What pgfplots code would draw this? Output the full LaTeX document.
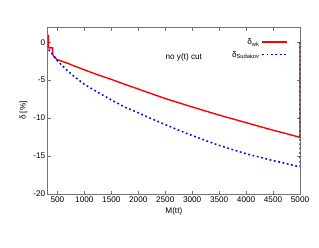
\documentclass[border=0pt]{standalone}
\usepackage{pgfplots}
\pgfplotsset{compat=1.18}
\usepackage{fontspec}
\setmainfont{Liberation Sans}
\begin{document}
\begin{tikzpicture}[font=\fontsize{8.2pt}{9.5pt}\selectfont]
\begin{axis}[
  scale only axis,
  width=252.3pt, height=167pt,
  at={(0,0)}, anchor=south west,
  xmin=320, xmax=5000, ymin=-20, ymax=2,
  xtick={500,1000,...,5000},
  ytick={-20,-15,...,0},
  tick align=inside,
  major tick length=3.5pt,
  axis line style={black!55, line width=0.8pt},
  every tick/.style={black!55, line width=0.6pt},
  /pgf/number format/assume math mode=true,
  /pgf/number format/1000 sep={},
  scaled x ticks=false,
  xticklabel style={yshift=1pt},
  yticklabel style={xshift=1pt},
  xlabel={M(tt)},
  ylabel={δ [\%]},
  xlabel style={yshift=2pt},
  ylabel style={yshift=-1pt},
  legend style={draw=none, fill=none, at={(rel axis cs:0.965,0.955)}, anchor=north east,
    row sep=1pt, font=\fontsize{8.2pt}{9.5pt}\selectfont},
  legend plot pos=right,
  legend cell align=right,
  legend image code/.code={\draw[#1] (0pt,0.6pt) -- (25pt,0.6pt);},
]
\addplot[color=red, line width=1.4pt, line join=miter] coordinates {
(335,1.0) (335,-0.75) (410,-0.75) (410,-1.6) (440,-1.95) (470,-2.15) (500,-2.3)
(600,-2.55) (700,-2.8) (800,-3.1) (1000,-3.64) (1250,-4.3) (1500,-4.9)
(1750,-5.55) (2000,-6.17) (2250,-6.8) (2500,-7.42) (2750,-7.98) (3000,-8.53)
(3250,-9.07) (3500,-9.6) (3750,-10.1) (4000,-10.6) (4250,-11.1) (4500,-11.6)
(4750,-12.05) (4980,-12.5) (5000,-12.5) (5000,0)
};
\addlegendentry{δ\textsubscript{wk}}
\addplot[color=blue, line width=1.5pt, dash pattern=on 1.8pt off 2.6pt] coordinates {
(335,-1.0) (370,-1.2) (400,-1.5) (450,-1.95) (500,-2.45) (600,-3.15) (700,-3.85)
(800,-4.45) (900,-5.0) (1000,-5.55) (1250,-6.6) (1500,-7.6) (1750,-8.55)
(2000,-9.3) (2250,-10.1) (2500,-10.85) (2750,-11.6) (3000,-12.3) (3250,-12.95)
(3500,-13.6) (3750,-14.15) (4000,-14.7) (4250,-15.15) (4500,-15.6) (4750,-16.0)
(4980,-16.4) (5000,-16.4) (5000,0)
};
\addlegendentry{δ\textsubscript{Sudakov}}
\node[anchor=west] at (axis cs:2440,-2.0) {no y(t) cut};
\end{axis}
\path[use as bounding box] (-47.7pt,-53pt) rectangle (271.3pt,194pt);
\end{tikzpicture}
\end{document}
